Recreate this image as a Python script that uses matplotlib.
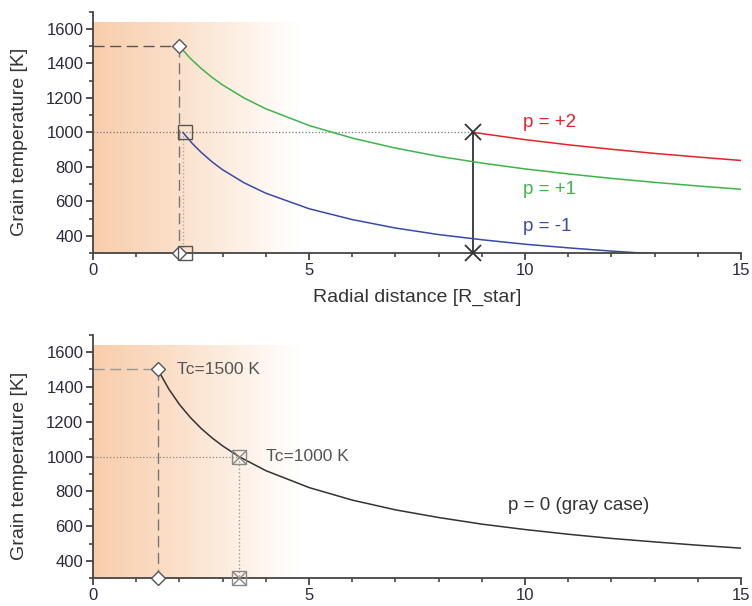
import numpy as np
import matplotlib.pyplot as plt
from matplotlib.colors import LinearSegmentedColormap
from matplotlib.ticker import MultipleLocator

plt.rcParams['font.family'] = ['Liberation Sans', 'DejaVu Sans']

# values
r_green = [2.0, 2.25, 2.5, 2.75, 3.0, 3.5, 4.0, 5.0, 6.0, 7.0, 8.0, 9.0, 10.0, 11.0, 12.0, 13.0, 14.0, 15.0]
t_green = [1500, 1430, 1372, 1320, 1275, 1199, 1137, 1040, 967, 909, 861, 822, 788, 759, 733, 710, 689, 670]

r_blue = [2.08, 2.3, 2.5, 2.75, 3.0, 3.5, 4.0, 5.0, 6.0, 7.0, 8.0, 9.0, 10.0, 11.0, 12.0, 13.0]
t_blue = [1000, 935, 885, 830, 783, 707, 647, 557, 494, 445, 407, 377, 351, 330, 311, 295]

r_red = [8.8, 10.0, 11.0, 12.0, 13.0, 14.0, 15.0]
t_red = [1000, 958, 928, 902, 878, 857, 837]

r_gray = [1.5, 1.75, 2.0, 2.25, 2.5, 2.75, 3.0, 3.375, 4.0, 5.0, 6.0, 7.0, 8.0, 9.0, 10.0, 11.0, 12.0, 13.0, 14.0, 15.0]
t_gray = [1500, 1389, 1299, 1225, 1162, 1108, 1061, 1000, 919, 822, 750, 694, 650, 612, 581, 554, 530, 510, 491, 474]

top_cond = (2.0, 1500)    # diamond
top_cond2 = (2.08, 1000)  # square
top_cross = (8.8, 1000)
bot_cond = (1.5, 1500)
bot_cond2 = (3.375, 1000)

shade = LinearSegmentedColormap.from_list('shade', ['#f9cdab', '#fbdcc4', '#fdeee2', '#ffffff'])


def style_axes(ax):
    ax.set_xlim(0, 15)
    ax.set_ylim(300, 1700)
    ax.spines['top'].set_visible(False)
    ax.spines['right'].set_visible(False)
    ax.spines['left'].set_linewidth(1.3)
    ax.spines['bottom'].set_linewidth(1.3)
    ax.spines['left'].set_color('#444444')
    ax.spines['bottom'].set_color('#444444')
    ax.set_yticks([400, 600, 800, 1000, 1200, 1400, 1600])
    ax.yaxis.set_minor_locator(MultipleLocator(100))
    ax.set_xticks([0, 5, 10, 15])
    ax.xaxis.set_minor_locator(MultipleLocator(1))
    ax.tick_params(which='major', length=5, width=1.3, colors='#444444', labelcolor='#2a2a3a', labelsize=12, pad=2)
    ax.tick_params(which='minor', length=3, width=1.2, colors='#444444')
    ax.set_ylabel('Grain temperature [K]', fontsize=14, color='#333333')
    ax.yaxis.set_label_coords(-0.1, 0.46)
    grad = np.linspace(0, 1, 256).reshape(1, -1)
    ax.imshow(grad, cmap=shade, extent=(0, 4.8, 300, 1635), aspect='auto', zorder=0)


fig = plt.figure(figsize=(7.52, 6.06), dpi=100)
ax1 = fig.add_axes([0.1237, 0.5825, 0.8617, 0.3981])
ax2 = fig.add_axes([0.1237, 0.0454, 0.8617, 0.4025])

# top panel
style_axes(ax1)
ax1.plot([0, top_cond[0]], [1500, 1500], ls=(0, (8, 4)), color='#555555', lw=1)
ax1.plot([top_cond[0], top_cond[0]], [1500, 300], ls=(0, (8, 4)), color='#777777', lw=1)
ax1.plot([0, top_cross[0]], [1000, 1000], ls=':', color='#777777', lw=0.9)
ax1.plot([top_cond2[0], top_cond2[0]], [1000, 300], ls=':', color='#aaaaaa', lw=1)
ax1.plot([top_cross[0], top_cross[0]], [1000, 300], color='#333333', lw=1.3, clip_on=False)
ax1.plot(r_green, t_green, color='#3db54a', lw=1.1)
ax1.plot(r_blue, t_blue, color='#3949a8', lw=1.1)
ax1.plot(r_red, t_red, color='#e8202a', lw=1.1)
ax1.plot([top_cond[0]] * 2, [1500, 300], ls='none', marker='D', ms=7, mfc='white', mec='#555555', mew=1, clip_on=False, zorder=5)
ax1.plot([top_cond2[0] + 0.05] * 2, [1000, 300], ls='none', marker='s', ms=10, mfc='none', mec='#555555', mew=1, clip_on=False, zorder=5)
ax1.plot([top_cross[0]] * 2, [1000, 300], ls='none', marker='x', ms=11, mec='#333333', mew=1.3, clip_on=False, zorder=6)
ax1.text(9.95, 1055, 'p = +2', color='#e8202a', fontsize=13.5, va='center')
ax1.text(9.95, 667, 'p = +1', color='#3db54a', fontsize=13.5, va='center')
ax1.text(9.95, 452, 'p = -1', color='#3949a8', fontsize=13.5, va='center')
ax1.set_xlabel('Radial distance [R_star]', fontsize=14, color='#333333', labelpad=8)

# bottom panel
style_axes(ax2)
ax2.plot([0, bot_cond[0]], [1500, 1500], ls=(0, (8, 4)), color='#999999', lw=1)
ax2.plot([bot_cond[0], bot_cond[0]], [1500, 300], ls=(0, (8, 4)), color='#777777', lw=1)
ax2.plot([0, bot_cond2[0]], [1000, 1000], ls=':', color='#888888', lw=0.9)
ax2.plot([bot_cond2[0], bot_cond2[0]], [1000, 300], ls=':', color='#999999', lw=1)
ax2.plot(r_gray, t_gray, color='#333333', lw=1.1)
ax2.plot([bot_cond[0]] * 2, [1500, 300], ls='none', marker='D', ms=7, mfc='white', mec='#555555', mew=1, clip_on=False, zorder=5)
ax2.plot([bot_cond2[0]] * 2, [1000, 300], ls='none', marker='s', ms=10, mfc='none', mec='#888888', mew=1, clip_on=False, zorder=5)
ax2.plot([bot_cond2[0]] * 2, [1000, 300], ls='none', marker='x', ms=10, mec='#888888', mew=1, clip_on=False, zorder=5)
ax2.text(1.95, 1500, 'Tc=1500 K', color='#555555', fontsize=12.5, va='center')
ax2.text(4.0, 1000, 'Tc=1000 K', color='#555555', fontsize=12.5, va='center')
ax2.text(9.6, 720, 'p = 0 (gray case)', color='#333333', fontsize=13.5, va='center')

fig.savefig('out.png', dpi=100)
